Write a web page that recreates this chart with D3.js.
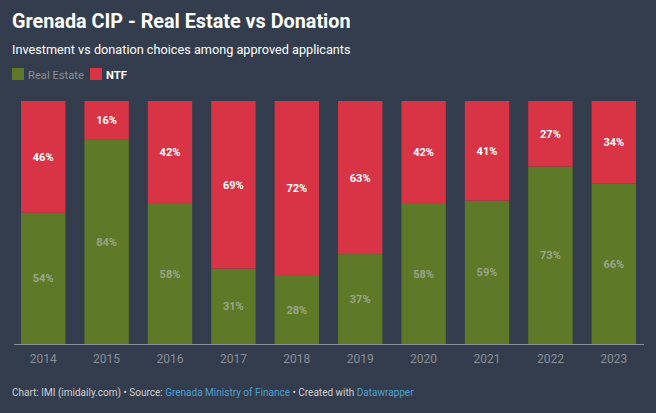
<!DOCTYPE html>
<html>
<head>
<meta charset="utf-8">
<script src="https://cdn.jsdelivr.net/npm/d3@7"></script>
<style>
  body { margin: 0; background: #333d4d; }
  svg { font-family: Roboto, "Noto Sans", sans-serif; display: block; }
</style>
</head>
<body>
<div id="chart"></div>
<script>
const years = ["2014", "2015", "2016", "2017", "2018", "2019", "2020", "2021", "2022", "2023"];
const realEstate = [54, 84, 58, 31, 28, 37, 58, 59, 73, 66];
const ntf = [46, 16, 42, 69, 72, 63, 42, 41, 27, 34];
const seriesNames = ["Real Estate", "NTF"];

const width = 656;
const height = 413;
const colors = { "Real Estate": "#5e7a28", NTF: "#d93446" };

const svg = d3.select("#chart").append("svg")
  .attr("width", width)
  .attr("height", height);

svg.append("rect").attr("width", width).attr("height", height).attr("fill", "#333d4d");

// header
svg.append("text")
  .attr("x", 12).attr("y", 28)
  .attr("fill", "#fff")
  .attr("font-size", "19.8px")
  .attr("font-weight", "bold")
  .text("Grenada CIP - Real Estate vs Donation");

svg.append("text")
  .attr("x", 12).attr("y", 54)
  .attr("fill", "#fff")
  .attr("font-size", "12.7px")
  .text("Investment vs donation choices among approved applicants");

// legend
const legend = svg.append("g").attr("transform", "translate(12,68)");
legend.append("rect").attr("width", 12).attr("height", 12).attr("fill", colors["Real Estate"]);
legend.append("text").attr("x", 16).attr("y", 10.5)
  .attr("fill", "#8a8f96").attr("font-size", "11.2px").text(seriesNames[0]);
legend.append("rect").attr("x", 78).attr("width", 12).attr("height", 12).attr("fill", colors.NTF);
legend.append("text").attr("x", 94).attr("y", 10.5)
  .attr("fill", "#fff").attr("font-size", "11.2px").attr("font-weight", "bold").text(seriesNames[1]);

// data table for stacking
const rows = years.map((y, i) => ({ year: y, "Real Estate": realEstate[i], NTF: ntf[i] }));
const stacked = d3.stack().keys(seriesNames)(rows);

const x = d3.scaleBand()
  .domain(years)
  .range([21, 636])
  .paddingInner(0.3)
  .paddingOuter(0);

const y = d3.scaleLinear()
  .domain([0, 100])
  .range([344, 101]);

const layers = svg.selectAll("g.layer")
  .data(stacked)
  .enter()
  .append("g")
  .attr("class", "layer")
  .attr("fill", (d) => colors[d.key]);

layers.selectAll("rect")
  .data((d) => d)
  .enter()
  .append("rect")
  .attr("x", (d) => x(d.data.year))
  .attr("y", (d) => y(d[1]))
  .attr("width", x.bandwidth())
  .attr("height", (d) => y(d[0]) - y(d[1]));

// value labels
stacked.forEach(function (layer) {
  svg.append("g")
    .selectAll("text")
    .data(layer)
    .enter()
    .append("text")
    .attr("x", (d) => x(d.data.year) + x.bandwidth() / 2)
    .attr("y", (d) => (y(d[0]) + y(d[1])) / 2 + 4)
    .attr("text-anchor", "middle")
    .attr("font-size", "11px")
    .attr("font-weight", "bold")
    .attr("fill", layer.key === "NTF" ? "#fff" : "#9aa58a")
    .text((d) => d[1] - d[0] + "%");
});

// baseline
svg.append("line")
  .attr("x1", 14).attr("x2", 644)
  .attr("y1", y(0) + 0.5).attr("y2", y(0) + 0.5)
  .attr("stroke", "#8a9099").attr("stroke-width", 1);

// x axis
const xAxis = svg.append("g")
  .attr("transform", `translate(0,${y(0)})`)
  .call(d3.axisBottom(x).tickSize(0).tickPadding(10));
xAxis.select(".domain").remove();
xAxis.selectAll("text")
  .attr("fill", "#8a8f96")
  .attr("font-size", "12px")
  .attr("font-family", "Roboto, sans-serif");

// footer
const footer = svg.append("text")
  .attr("x", 12).attr("y", 396)
  .attr("font-size", "10px")
  .attr("fill", "#ccd0d6");
footer.append("tspan").text("Chart: IMI (imidaily.com) • Source: ");
footer.append("tspan").attr("fill", "#4ea1d3").text("Grenada Ministry of Finance");
footer.append("tspan").text(" • Created with ");
footer.append("tspan").attr("fill", "#4ea1d3").text("Datawrapper");
</script>
</body>
</html>
